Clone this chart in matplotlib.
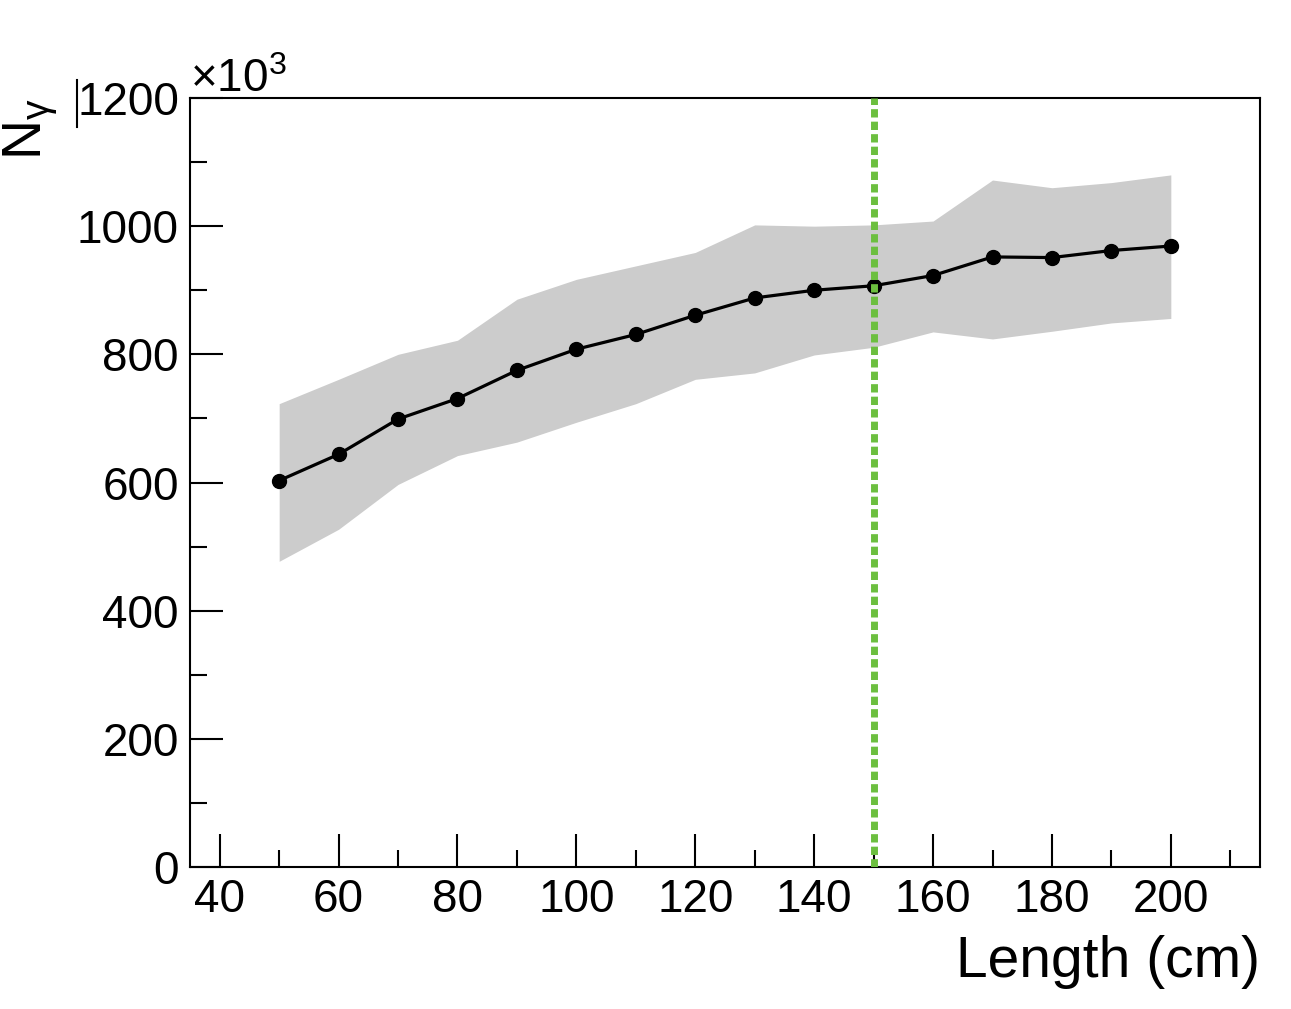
import matplotlib
matplotlib.use("Agg")
import matplotlib.pyplot as plt
from matplotlib.lines import Line2D
import numpy as np

plt.rcParams['font.family'] = ['Liberation Sans', 'DejaVu Sans']
plt.rcParams['mathtext.fontset'] = 'custom'
plt.rcParams['mathtext.rm'] = 'Liberation Sans'
plt.rcParams['mathtext.it'] = 'Liberation Sans'

# photon yield vs radiator length (values in units of 10^3)
length = [50, 60, 70, 80, 90, 100, 110, 120, 130, 140, 150, 160, 170, 180, 190, 200]
n_gamma = [603, 644, 699, 731, 775, 808, 831, 861, 888, 900, 907, 923, 952, 951, 962, 969]
band_hi = [723, 761, 800, 822, 886, 917, 938, 959, 1002, 1000, 1002, 1008, 1072, 1060, 1068, 1080]
band_lo = [477, 527, 597, 642, 663, 694, 723, 761, 771, 799, 811, 835, 824, 836, 849, 856]
chosen_length = 150

fig = plt.figure(figsize=(12.91, 10.09), dpi=100)
ax = fig.add_axes([190/1291, 1-867/1009, (1260-190)/1291, (867-98)/1009])

ax.fill_between(length, band_lo, band_hi, color='#cccccc', lw=0, zorder=1)
ax.plot(length, n_gamma, color='black', lw=2.3, marker='o', ms=10, zorder=3)
ax.axvline(chosen_length, color='#6cbf3f', lw=5, linestyle=(0, (1.2, 0.6)), zorder=4)

ax.set_xlim(35, 215)
ax.set_ylim(0, 1200)
ax.set_xticks(np.arange(40, 201, 20))
ax.set_xticks(np.arange(50, 215, 10), minor=True)
ax.set_yticks(np.arange(0, 1201, 200))
ax.set_yticks(np.arange(100, 1200, 200), minor=True)

ax.tick_params(which='both', direction='in', labelsize=33, width=1.5, top=False, right=False)
ax.tick_params(which='major', length=24)
ax.tick_params(which='minor', length=12)
ax.tick_params(axis='x', pad=8)
ax.tick_params(axis='y', pad=8)
for s in ax.spines.values():
    s.set_linewidth(1.5)

fig.text(1260/1291, 1-962/1009, 'Length (cm)', fontsize=41, ha='right', va='center')
fig.text(31/1291, 1-98/1009, r'N$_{\gamma}$', fontsize=40, rotation=90, ha='center', va='top')
# small separator stroke between the axis title and the top tick label
fig.add_artist(Line2D([77/1291, 77/1291], [1-80/1009, 1-127/1009], color='black', lw=1.5,
                      transform=fig.transFigure))
fig.text(190/1291, 1-92/1009, r'$\times$10$^{3}$', fontsize=33, ha='left', va='baseline')

fig.savefig('out.png', dpi=100)
